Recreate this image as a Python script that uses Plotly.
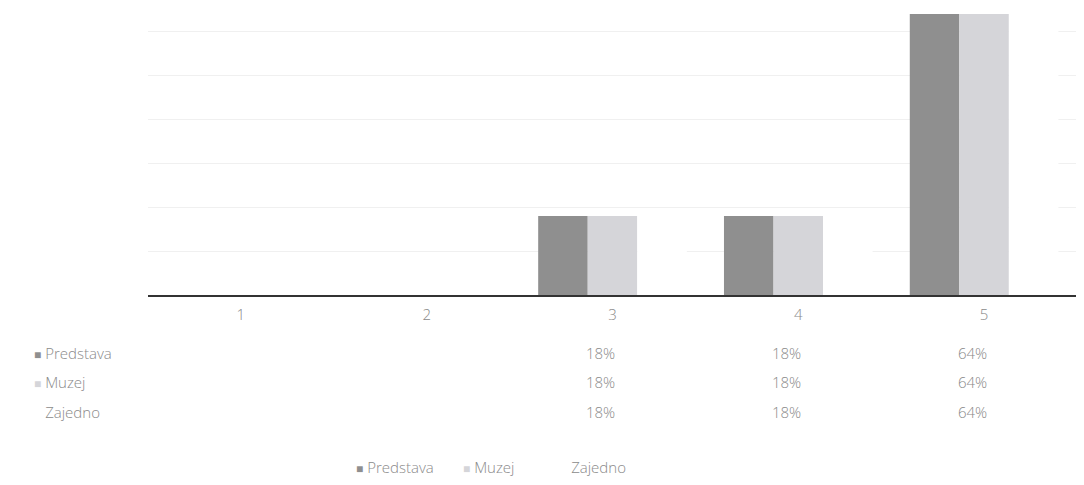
import plotly.graph_objects as go

categories = ["1", "2", "3", "4", "5"]
predstava = [None, None, 0.18, 0.18, 0.64]
muzej = [None, None, 0.18, 0.18, 0.64]
zajedno = [None, None, 0.18, 0.18, 0.64]
series_names = ["Predstava", "Muzej", "Zajedno"]
series_colors = ["#8f8f8f", "#d5d5d9", "#ffffff"]

FONT = "Open Sans"
TXT = "#8a8a8a"
FS = 15
FW = 300

fig = go.Figure()
for name, vals, col in zip(series_names, [predstava, muzej, zajedno], series_colors):
    fig.add_trace(go.Bar(x=categories, y=vals, name=name, marker_color=col,
                         marker_line_width=0, hoverinfo="skip", showlegend=False))

def item(col, name):
    return f"<span style='color:{col};font-size:12px'>■</span> {name}"

# data table rows
row_y = [-0.202, -0.303, -0.408]
for name, vals, col, ry in zip(series_names, [predstava, muzej, zajedno], series_colors, row_y):
    fig.add_annotation(xref="paper", yref="paper", x=-0.1249, y=ry, xanchor="left", yanchor="middle",
                       text=item(col, name), showarrow=False,
                       font=dict(family=FONT, size=FS, color=TXT, weight=FW))
    for i, v in enumerate(vals):
        if v is None:
            continue
        fig.add_annotation(xref="x", yref="paper", x=i, y=ry, xshift=-12, yanchor="middle",
                           text=f"{round(v*100)}%", showarrow=False,
                           font=dict(family=FONT, size=FS, color=TXT, weight=FW))

# bottom legend
legend_x = [0.222, 0.337, 0.4415]
for name, col, lx in zip(series_names, series_colors, legend_x):
    fig.add_annotation(xref="paper", yref="paper", x=lx, y=-0.599, xanchor="left", yanchor="middle",
                       text=item(col, name), showarrow=False,
                       font=dict(family=FONT, size=FS, color=TXT, weight=FW))

fig.update_layout(
    width=1084, height=485,
    margin=dict(l=140, r=15, t=0, b=198),
    paper_bgcolor="white", plot_bgcolor="white",
    barmode="group", bargap=0.2, bargroupgap=0,
    font=dict(family=FONT, size=FS, color=TXT),
    showlegend=False,
    xaxis=dict(type="category", range=[-0.5, 4.5], showline=True, linecolor="#333333", linewidth=2,
               ticks="outside", ticklen=5, tickcolor="rgba(0,0,0,0)", showgrid=False,
               tickfont=dict(family=FONT, size=FS, color=TXT, weight=FW)),
    yaxis=dict(range=[0, 0.6537], dtick=0.1, showgrid=True, gridcolor="#f0f0f0", gridwidth=1,
               showticklabels=False, zeroline=False, showline=False),
)

fig.write_html("out.html")
